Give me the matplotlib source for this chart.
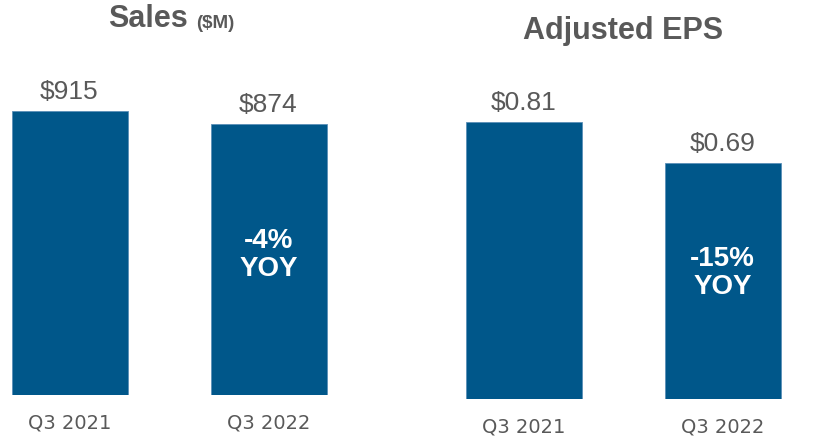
import matplotlib
matplotlib.use('Agg')
from matplotlib import pyplot as plt

################################################################################
### Data
################################################################################
quarters = ['Q3 2021', 'Q3 2022']
sales = [915, 874]
sales_labels = ['$915', '$874']
eps = [0.81, 0.69]
eps_labels = ['$0.81', '$0.69']
sales_yoy = '-4%\nYOY'
eps_yoy = '-15%\nYOY'

BLUE = '#00578A'
GREY = '#595959'
W, H = 840, 441

plt.rcParams['font.family'] = ['Liberation Sans', 'DejaVu Sans']
fig = plt.figure(figsize=(W / 100, H / 100), dpi=100)


def make_panel(left_px, right_px, c0, step, base_px, top_px, top_val, values, labels, yoy, yoy_px, tick_px):
    # axes spans from left_px..right_px horizontally and from top of figure to baseline
    ax = fig.add_axes([left_px / W, (H - base_px) / H, (right_px - left_px) / W, base_px / H])
    scale = (base_px - top_px) / top_val
    ax.set_xlim((left_px - c0) / step, (right_px - c0) / step)
    ax.set_ylim(0, base_px / scale)
    x = list(range(len(values)))
    ax.bar(x, values, width=116 / step, color=BLUE, edgecolor='#5b8fb8', linewidth=0.6)
    for xi, v, lab in zip(x, values, labels):
        ax.annotate(lab, (xi, v), xytext=(0, 5), textcoords='offset points',
                    ha='center', va='bottom', fontsize=19, color=GREY)
    ax.text(1, (base_px - yoy_px) / scale, yoy, ha='center', va='center',
            fontsize=20, color='white', fontweight='bold', linespacing=1.1)
    for xi, q in zip(x, quarters):
        ax.text(xi, -(tick_px - base_px) / scale, q, ha='center', va='center',
                fontsize=14, color=GREY, family=['Liberation Sans Narrow', 'DejaVu Sans'],
                clip_on=False)
    ax.axis('off')
    return ax


make_panel(0, 420, 69.5, 199, 395, 111, sales[0], sales, sales_labels, sales_yoy, 255, 423)
make_panel(420, 840, 524, 198.5, 399, 122, eps[0], eps, eps_labels, eps_yoy, 273, 427)

# titles
fig.text(188 / W, 1 - 19 / H, 'Sales', ha='right', va='center', fontsize=22,
         fontweight='bold', color=GREY)
fig.text(196 / W, 1 - 23 / H, '($M)', ha='left', va='center', fontsize=13.5,
         fontweight='bold', color=GREY)
fig.text(623 / W, 1 - 31 / H, 'Adjusted EPS', ha='center', va='center', fontsize=22,
         fontweight='bold', color=GREY)

fig.savefig('out.png', dpi=100)
